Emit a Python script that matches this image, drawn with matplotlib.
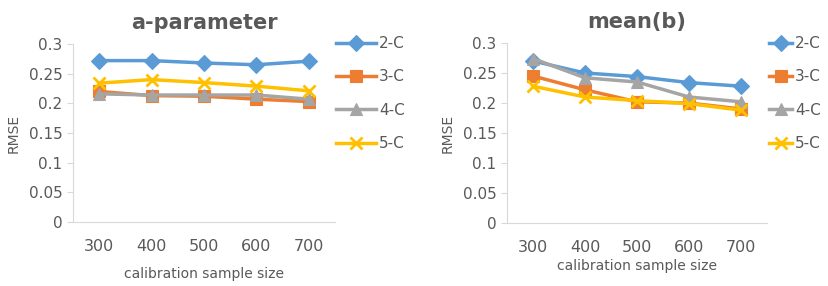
import matplotlib.pyplot as plt

sizes = ['300', '400', '500', '600', '700']
series = ['2-C', '3-C', '4-C', '5-C']

a_2c = [0.272, 0.272, 0.268, 0.265, 0.271]
a_3c = [0.220, 0.213, 0.212, 0.207, 0.203]
a_4c = [0.216, 0.214, 0.214, 0.214, 0.207]
a_5c = [0.234, 0.240, 0.235, 0.229, 0.221]

b_2c = [0.270, 0.250, 0.244, 0.234, 0.228]
b_3c = [0.245, 0.222, 0.202, 0.200, 0.190]
b_4c = [0.274, 0.242, 0.235, 0.210, 0.202]
b_5c = [0.228, 0.210, 0.204, 0.199, 0.188]

colors = ['#5B9BD5', '#ED7D31', '#A5A5A5', '#FFC000']
markers = ['D', 's', '^', 'x']
msizes = [8, 9, 8, 9]
txt = '#595959'

fig = plt.figure(figsize=(8.29, 2.86), dpi=100)
ax1 = fig.add_axes([73/829, 1-222/286, 262/829, 178/286])
ax2 = fig.add_axes([507/829, 1-223/286, 260/829, 180/286])

# axis, title, data, legend x (px), x label y (px), legend handle length
panels = [
    (ax1, 'a-parameter', [a_2c, a_3c, a_4c, a_5c], 330, 274, 2.6),
    (ax2, 'mean(b)', [b_2c, b_3c, b_4c, b_5c], 763, 266, 1.5),
]

for ax, title, data, leg_x, xlab_y, hlen in panels:
    x = range(len(sizes))
    for vals, name, c, m, ms in zip(data, series, colors, markers, msizes):
        ax.plot(x, vals, color=c, marker=m, markersize=ms, linewidth=2.5,
                markeredgewidth=2 if m == 'x' else 0.8, label=name)
    ax.set_xlim(-0.5, 4.5)
    ax.set_ylim(0, 0.3)
    ax.set_yticks([0, 0.05, 0.1, 0.15, 0.2, 0.25, 0.3])
    ax.set_yticklabels(['0', '0.05', '0.1', '0.15', '0.2', '0.25', '0.3'])
    ax.set_xticks(list(x))
    ax.set_xticklabels(sizes)
    for s in ['top', 'right']:
        ax.spines[s].set_visible(False)
    for s in ['left', 'bottom']:
        ax.spines[s].set_color('#D9D9D9')
    ax.tick_params(axis='y', colors='#D9D9D9', labelcolor=txt, labelsize=11, length=4)
    ax.tick_params(axis='x', length=0, labelcolor=txt, labelsize=11.5, pad=12)
    ax.set_ylabel('RMSE', color=txt, fontsize=10, labelpad=6)
    ax.set_title(title, color=txt, fontsize=15, fontweight='bold', pad=11)
    pos = ax.get_position()
    fig.text((pos.x0 + pos.x1) / 2, 1 - xlab_y/286, 'calibration sample size',
             ha='center', va='center', color=txt, fontsize=10)
    leg = ax.legend(loc='upper left', bbox_to_anchor=(leg_x/829, 1 - 30/286),
                    bbox_transform=fig.transFigure, frameon=False, fontsize=11,
                    labelspacing=1.2, handlelength=hlen, handletextpad=0.2, borderaxespad=0)
    for t in leg.get_texts():
        t.set_color(txt)

fig.savefig('out.png', dpi=100)
